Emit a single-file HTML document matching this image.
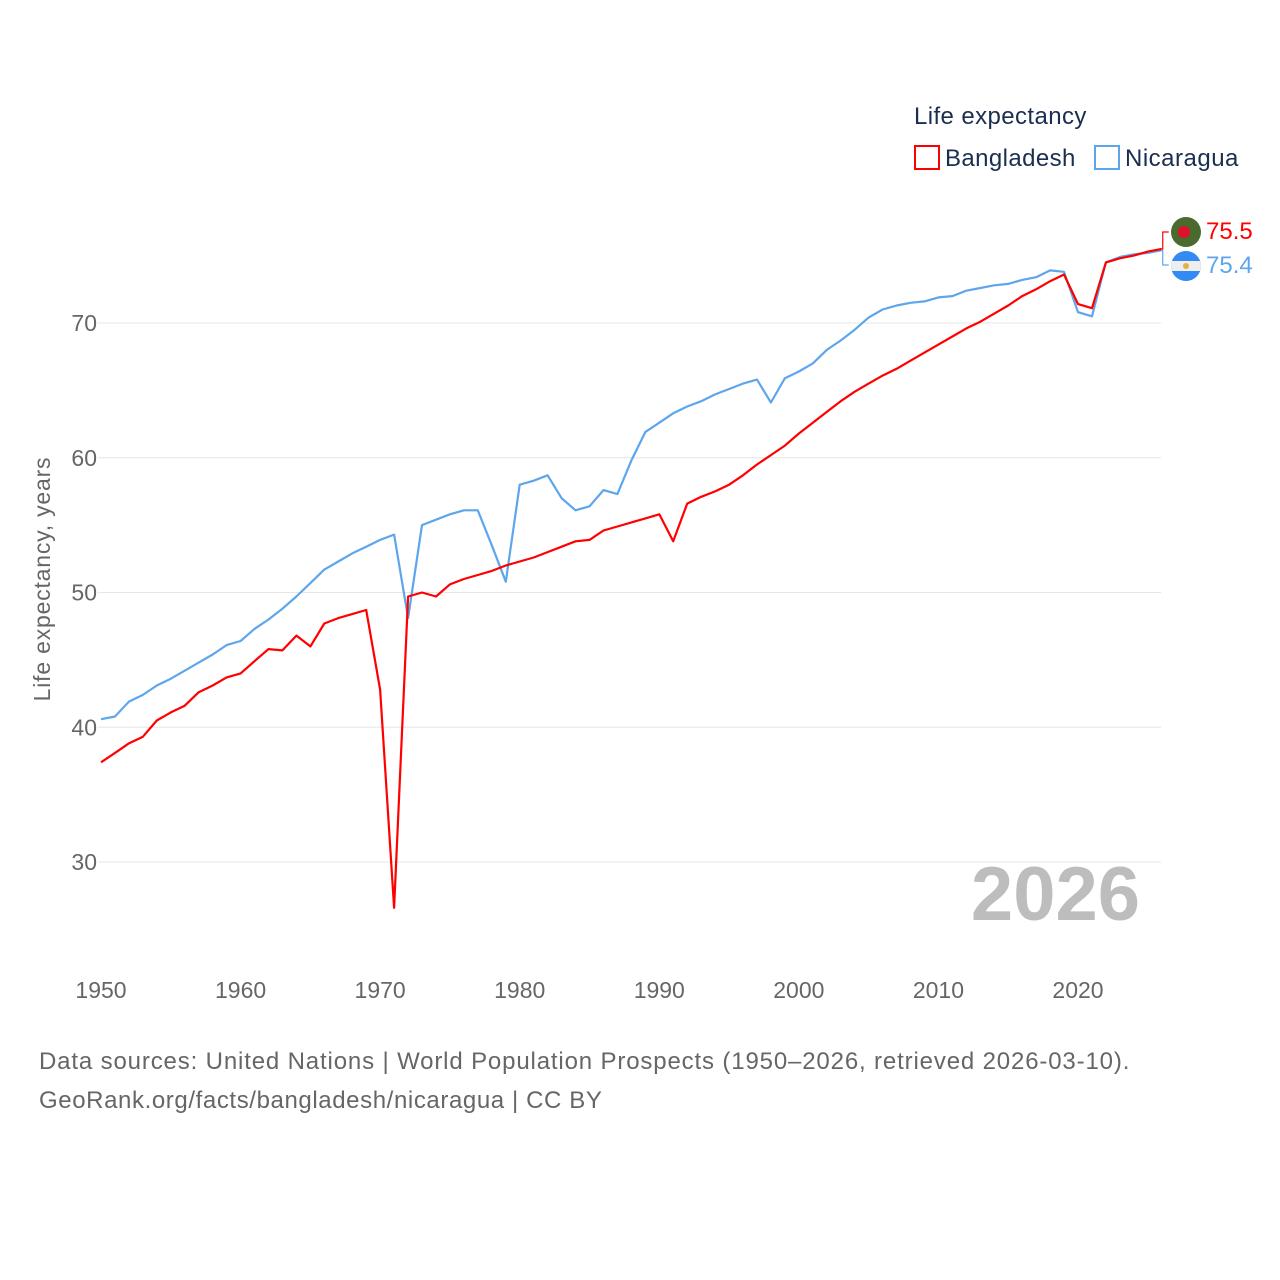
<!DOCTYPE html>
<html><head><meta charset="utf-8">
<style>
body{margin:0;background:#fff;font-family:"Liberation Sans",sans-serif;}
svg{display:block}
</style></head>
<body>
<svg id="chart" width="1280" height="1280" viewBox="0 0 1280 1280" xmlns="http://www.w3.org/2000/svg">
<g id="grid"></g>
<g id="ylabels"></g>
<g id="xlabels"></g>
<text transform="translate(50,579) rotate(-90)" text-anchor="middle" font-size="23" letter-spacing="0.8" fill="#666">Life expectancy, years</text>
<text x="1140" y="920" text-anchor="end" font-size="76" font-weight="bold" fill="#bdbdbd">2026</text>
<g id="series"></g>
<g>
<text x="914" y="124" font-size="24" letter-spacing="0.4" fill="#1a2e4f">Life expectancy</text>
<rect x="915" y="146" width="24" height="23" fill="none" stroke="#ff0000" stroke-width="2"/>
<text x="945" y="166" font-size="24" letter-spacing="0.4" fill="#1a2e4f">Bangladesh</text>
<rect x="1095" y="146" width="24" height="23" fill="none" stroke="#5ea6ec" stroke-width="2"/>
<text x="1125" y="166" font-size="24" letter-spacing="0.5" fill="#1a2e4f">Nicaragua</text>
</g>
<g id="endlabels"></g>
<text x="39" y="1069" font-size="24" letter-spacing="0.85" fill="#666">Data sources: United Nations | World Population Prospects (1950–2026, retrieved 2026-03-10).</text>
<text x="39" y="1108" font-size="24" letter-spacing="0.6" fill="#666">GeoRank.org/facts/bangladesh/nicaragua | CC BY</text>
</svg>
<script>
const years = [];
for (let y = 1950; y <= 2026; y++) years.push(y);
const bangladesh = [37.4,38.1,38.8,39.3,40.5,41.1,41.6,42.6,43.1,43.7,44.0,44.9,45.8,45.7,46.8,46.0,47.7,48.1,48.4,48.7,42.8,26.6,49.7,50.0,49.7,50.6,51.0,51.3,51.6,52.0,52.3,52.6,53.0,53.4,53.8,53.9,54.6,54.9,55.2,55.5,55.8,53.8,56.6,57.1,57.5,58.0,58.7,59.5,60.2,60.9,61.8,62.6,63.4,64.2,64.9,65.5,66.1,66.6,67.2,67.8,68.4,69.0,69.6,70.1,70.7,71.3,72.0,72.5,73.1,73.6,71.4,71.1,74.5,74.8,75.0,75.3,75.5];
const nicaragua = [40.6,40.8,41.9,42.4,43.1,43.6,44.2,44.8,45.4,46.1,46.4,47.3,48.0,48.8,49.7,50.7,51.7,52.3,52.9,53.4,53.9,54.3,48.1,55.0,55.4,55.8,56.1,56.1,53.5,50.8,58.0,58.3,58.7,57.0,56.1,56.4,57.6,57.3,59.8,61.9,62.6,63.3,63.8,64.2,64.7,65.1,65.5,65.8,64.1,65.9,66.4,67.0,68.0,68.7,69.5,70.4,71.0,71.3,71.5,71.6,71.9,72.0,72.4,72.6,72.8,72.9,73.2,73.4,73.9,73.8,70.8,70.5,74.5,74.9,75.1,75.2,75.4];
const yTicks = [30,40,50,60,70];
const xTicks = [1950,1960,1970,1980,1990,2000,2010,2020];

const NS = "http://www.w3.org/2000/svg";
const xScale = v => 101 + (v - 1950) * (1078 - 101) / 70;
const yScale = v => 323 + (70 - v) * (862 - 323) / 40;
function mk(tag, attrs, parent){const e=document.createElementNS(NS,tag);for(const k in attrs)e.setAttribute(k,attrs[k]);parent.appendChild(e);return e;}

const grid=document.getElementById('grid'), yl=document.getElementById('ylabels'), xl=document.getElementById('xlabels');
yTicks.forEach(t=>{
  const l=mk('line',{x1:98,x2:1161,y1:yScale(t),y2:yScale(t),stroke:'#e6e6e6','stroke-width':1},grid);
  
  
  const tx=mk('text',{x:97,y:yScale(t)+8,'text-anchor':'end','font-size':23,fill:'#666'},yl);
  tx.textContent=t;
  
  
});
xTicks.forEach(t=>{
  const tx=mk('text',{x:xScale(t),y:998,'text-anchor':'middle','font-size':23,fill:'#666'},xl);
  tx.textContent=t;
  
  
});
const sg=document.getElementById('series');
function line(data,color,name){
  const d=data.map((v,i)=>(i?'L':'M')+xScale(years[i]).toFixed(1)+','+yScale(v).toFixed(1)).join('');
  const p=mk('path',{d:d,fill:'none',stroke:color,'stroke-width':2.2,'stroke-linejoin':'round'},sg);
  
  
}
line(nicaragua,'#5ea6ec','line-nicaragua');
line(bangladesh,'#ff0000','line-bangladesh');

const el=document.getElementById('endlabels');
const lx=xScale(2026);
const bEnd=bangladesh[bangladesh.length-1], nEnd=nicaragua[nicaragua.length-1];
const c1=mk('path',{d:`M${lx},${yScale(bEnd)} H${lx+1} V232 H${lx+7}`,fill:'none',stroke:'#ff0000','stroke-width':1.2},el);


const c2=mk('path',{d:`M${lx},${yScale(nEnd)} H${lx+1} V265 H${lx+7}`,fill:'none',stroke:'#5ea6ec','stroke-width':1.2},el);


const f1=mk('g',{},el);


mk('circle',{cx:1186,cy:232,r:15,fill:'#4a6a2e'},f1);
mk('circle',{cx:1184,cy:232,r:6,fill:'#e0102a'},f1);
const f2=mk('g',{},el);


const cp=mk('clipPath',{id:'nc'},f2);
mk('circle',{cx:1186,cy:266,r:15},cp);
mk('rect',{x:1171,y:251,width:30,height:30,fill:'#338af3','clip-path':'url(#nc)'},f2);
mk('rect',{x:1171,y:261,width:30,height:10,fill:'#eeeeee','clip-path':'url(#nc)'},f2);
mk('circle',{cx:1186,cy:266,r:3,fill:'#e3b23c'},f2);
const t1=mk('text',{x:1206,y:239,'font-size':24,fill:'#ff0000'},el);
t1.textContent=bEnd.toFixed(1);


const t2=mk('text',{x:1206,y:273,'font-size':24,fill:'#5ea6ec'},el);
t2.textContent=nEnd.toFixed(1);


</script>
</body></html>
